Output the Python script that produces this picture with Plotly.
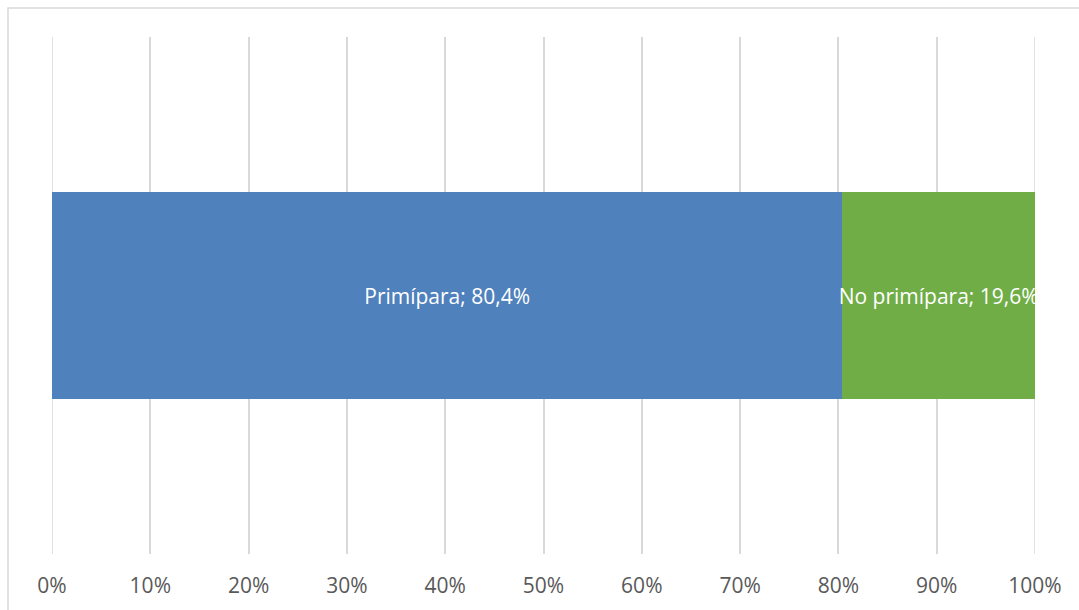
import plotly.graph_objects as go

# Share of births by parity (single 100% stacked bar)
category = [""]
series_names = ["Primípara", "No primípara"]
series_values = [80.4, 19.6]
series_colors = ["#4F81BD", "#70AD47"]
tick_values = [0, 10, 20, 30, 40, 50, 60, 70, 80, 90, 100]
tick_labels = ["0%", "10%", "20%", "30%", "40%", "50%", "60%", "70%", "80%", "90%", "100%"]

W, H = 1079, 610
ML, MR, MT, MB = 52, 44, 37, 56
FONT = "Open Sans"
GRID = "#D9D9D9"

fig = go.Figure()
for name, val, col in zip(series_names, series_values, series_colors):
    label = f"{name}; {val:.1f}%".replace(".", ",")
    fig.add_trace(go.Bar(
        x=[val], y=category, orientation="h", name=name,
        marker=dict(color=col, line=dict(width=0)),
        text=[label], textposition="inside", insidetextanchor="middle",
        textangle=0, constraintext="none",
        textfont=dict(family=FONT, size=21, color="white"),
        width=0.4, hoverinfo="skip",
    ))

pw = W - ML - MR
ph = H - MT - MB

# Outer chart border
shapes = [dict(
    type="rect", xref="paper", yref="paper",
    x0=(8 - ML) / pw, x1=(W + 10 - ML) / pw,
    y0=-(MB + 10) / ph, y1=(ph + MT - 8) / ph,
    line=dict(color=GRID, width=1.5), fillcolor="rgba(0,0,0,0)",
    layer="below",
)]
# Gridlines at the axis ends (Plotly skips grid lines on the range edges)
for xv in (tick_values[0], tick_values[-1]):
    shapes.append(dict(type="line", xref="x", yref="paper", x0=xv, x1=xv,
                       y0=0, y1=1, line=dict(color=GRID, width=1.5),
                       layer="below"))

fig.update_layout(
    width=W, height=H, barmode="stack", showlegend=False,
    margin=dict(l=ML, r=MR, t=MT, b=MB),
    paper_bgcolor="white", plot_bgcolor="white",
    uniformtext=dict(minsize=21, mode="show"),
    font=dict(family=FONT, size=21, color="#595959"),
    xaxis=dict(range=[0, 100], tickvals=tick_values, ticktext=tick_labels,
               showgrid=True, gridcolor=GRID, gridwidth=1.5,
               zeroline=False, showline=False, ticks="",
               ticklabelstandoff=17,
               tickfont=dict(family=FONT, size=21, color="#595959")),
    yaxis=dict(range=[-0.5, 0.5], showticklabels=False, showgrid=False,
               zeroline=False, showline=False),
    shapes=shapes,
)

fig.write_html("out.html")
